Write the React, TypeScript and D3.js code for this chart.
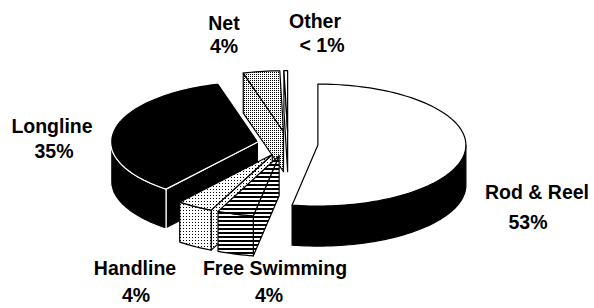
import React, { useEffect, useRef } from "react";
import * as d3 from "d3";

// catch by gear type, clockwise from 12 o'clock
const gears = ["Rod & Reel", "Free Swimming", "Handline", "Longline", "Net", "Other"];
const shares = [53, 4, 4, 35, 4, 0.4];
const shareLabels = ["53%", "4%", "4%", "35%", "4%", "< 1%"];

const W = 594;
const H = 308;
const cx = 288;
const cy = 144;
const rx = 148;
const ry = 61;
const depth = 40;
const explode = 30;

// label anchors (name line, value line)
const labelPos: Record<string, { x: number; y: number; vx: number; vy: number }> = {
  "Rod & Reel": { x: 537, y: 199, vx: 528, vy: 229 },
  "Free Swimming": { x: 275, y: 275, vx: 269, vy: 302 },
  Handline: { x: 135, y: 275, vx: 136, vy: 302 },
  Longline: { x: 52, y: 133, vx: 54, vy: 158 },
  Net: { x: 224, y: 30, vx: 224, vy: 53 },
  Other: { x: 315, y: 28, vx: 322, vy: 52 },
};

const styles: Record<string, { top: string; side: string; stroke: string }> = {
  "Rod & Reel": { top: "#fff", side: "#000", stroke: "#000" },
  "Free Swimming": { top: "url(#stripes)", side: "url(#stripes)", stroke: "#000" },
  Handline: { top: "url(#light)", side: "url(#light)", stroke: "#000" },
  Longline: { top: "#000", side: "#000", stroke: "#fff" },
  Net: { top: "url(#dense)", side: "url(#dense)", stroke: "#000" },
  Other: { top: "#fff", side: "#fff", stroke: "#000" },
};

const App = () => {
  const ref = useRef<SVGSVGElement>(null);

  useEffect(() => {
    const svg = d3.select(ref.current);
    svg.selectAll("*").remove();

    const defs = svg.append("defs");
    const dense = defs
      .append("pattern")
      .attr("id", "dense")
      .attr("width", 2)
      .attr("height", 2)
      .attr("patternUnits", "userSpaceOnUse");
    dense.append("rect").attr("width", 2).attr("height", 2).attr("fill", "#fff");
    dense.append("rect").attr("width", 1).attr("height", 1).attr("fill", "#000");

    const light = defs
      .append("pattern")
      .attr("id", "light")
      .attr("width", 3)
      .attr("height", 3)
      .attr("patternUnits", "userSpaceOnUse");
    light.append("rect").attr("width", 3).attr("height", 3).attr("fill", "#fff");
    light.append("rect").attr("width", 1).attr("height", 1).attr("fill", "#000");

    const stripes = defs
      .append("pattern")
      .attr("id", "stripes")
      .attr("width", 4)
      .attr("height", 4)
      .attr("patternUnits", "userSpaceOnUse");
    stripes.append("rect").attr("width", 4).attr("height", 4).attr("fill", "#fff");
    stripes.append("rect").attr("width", 4).attr("height", 2).attr("fill", "#000");

    const arcs = d3.pie<number>().sort(null).value((d) => d)(shares);

    const slices = arcs.map((a, i) => {
      const mid = (a.startAngle + a.endAngle) / 2;
      return {
        name: gears[i],
        a0: a.startAngle,
        a1: a.endAngle,
        mid,
        x: cx + explode * Math.sin(mid),
        y: cy - explode * (ry / rx) * Math.cos(mid),
      };
    });

    type Slice = (typeof slices)[number];
    const pt = (s: Slice, ang: number, dz = 0): [number, number] => [
      s.x + rx * Math.sin(ang),
      s.y - ry * Math.cos(ang) + dz,
    ];
    const arcPts = (s: Slice, from: number, to: number, dz = 0) => {
      const n = Math.max(2, Math.ceil(Math.abs(to - from) / 0.03));
      return d3.range(n + 1).map((k) => pt(s, from + ((to - from) * k) / n, dz));
    };
    const line = d3.line().curve(d3.curveLinearClosed);

    const g = svg.append("g");

    // back to front
    const order = [...slices].sort((p, q) => -Math.cos(p.mid) - -Math.cos(q.mid));

    order.forEach((s) => {
      const st = styles[s.name];
      const sg = g.append("g").attr("class", "slice");
      const apex: [number, number] = [s.x, s.y];
      const apexLow: [number, number] = [s.x, s.y + depth];

      // radial faces that face the viewer
      const radial = (ang: number) => {
        sg.append("path")
          .attr("d", line([apex, pt(s, ang), pt(s, ang, depth), apexLow]))
          .attr("fill", st.side)
          .attr("stroke", st.stroke)
          .attr("stroke-width", 1.2)
          .attr("stroke-linejoin", "round");
      };
      if (Math.cos(s.a0 - Math.PI / 2) < 0) radial(s.a0);
      if (Math.cos(s.a1 + Math.PI / 2) < 0) radial(s.a1);

      // outer wall, front half only
      const from = Math.max(s.a0, Math.PI / 2);
      const to = Math.min(s.a1, (3 * Math.PI) / 2);
      if (to > from) {
        const pts = [...arcPts(s, from, to), ...arcPts(s, to, from, depth)];
        sg.append("path")
          .attr("d", line(pts))
          .attr("fill", st.side)
          .attr("stroke", st.stroke)
          .attr("stroke-width", 1.2)
          .attr("stroke-linejoin", "round");
      }

      // top face
      sg.append("path")
        .attr("d", line([apex, ...arcPts(s, s.a0, s.a1)]))
        .attr("fill", st.top)
        .attr("stroke", st.stroke)
        .attr("stroke-width", 1.2)
        .attr("stroke-linejoin", "round");
    });

    // labels
    const labels = svg
      .append("g")
      .attr("font-family", "'Liberation Sans', Arial, sans-serif")
      .attr("font-weight", "bold")
      .attr("font-size", 19.5)
      .attr("text-anchor", "middle")
      .attr("fill", "#000");

    gears.forEach((name, i) => {
      const p = labelPos[name];
      labels.append("text").attr("x", p.x).attr("y", p.y).text(name);
      labels.append("text").attr("x", p.vx).attr("y", p.vy).text(shareLabels[i]);
    });

    return () => {
      svg.selectAll("*").remove();
    };
  }, []);

  return (
    <svg
      ref={ref}
      width={W}
      height={H}
      viewBox={`0 0 ${W} ${H}`}
      style={{ position: "absolute", left: 0, top: 0, background: "#fff" }}
    />
  );
};

export default App;
